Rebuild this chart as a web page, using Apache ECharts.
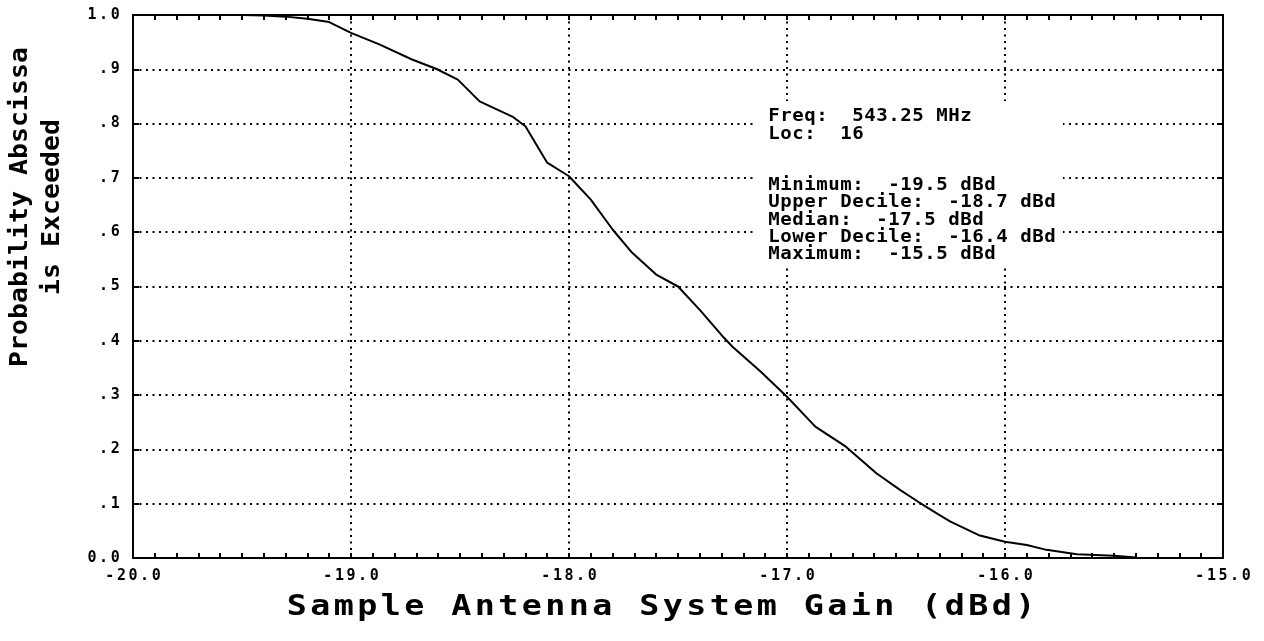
<!DOCTYPE html>
<html>
<head>
<meta charset="utf-8">
<script src="https://cdn.jsdelivr.net/npm/echarts@6/dist/echarts.min.js"></script>
<style>
  html, body { margin: 0; padding: 0; background: #fff; }
  #chart { width: 1264px; height: 641px; }
</style>
</head>
<body>
<div id="chart"></div>
<script>
// Cumulative distribution of measured gain: probability that the abscissa is exceeded
const gainDb = [
  -19.50, -19.40, -19.30, -19.20, -19.10, -19.00, -18.87, -18.72, -18.61, -18.51,
  -18.41, -18.26, -18.20, -18.10, -18.00, -17.90, -17.80, -17.71, -17.60, -17.50,
  -17.40, -17.29, -17.25, -17.12, -17.00, -16.87, -16.73, -16.59, -16.48, -16.40,
  -16.30, -16.25, -16.12, -16.00, -15.90, -15.81, -15.67, -15.50, -15.40
];
const probExceeded = [
  1.000, 0.999, 0.997, 0.993, 0.987, 0.967, 0.946, 0.918, 0.901, 0.881,
  0.841, 0.813, 0.795, 0.728, 0.703, 0.660, 0.605, 0.562, 0.522, 0.500,
  0.457, 0.406, 0.389, 0.343, 0.297, 0.242, 0.205, 0.156, 0.125, 0.104,
  0.079, 0.067, 0.042, 0.030, 0.024, 0.015, 0.007, 0.004, 0.001
];

// Axis ranges and tick labels
const xMin = -20, xMax = -15, xStep = 1;
const yMin = 0, yMax = 1, yStep = 0.1;
const yTickLabels = ['0.0', '.1', '.2', '.3', '.4', '.5', '.6', '.7', '.8', '.9', '1.0'];

// Titles and the statistics block (row index gives the line slot)
const xTitle = 'Sample Antenna System Gain (dBd)';
const yTitleLines = ['Probability Abscissa', 'is Exceeded'];
const infoLines = [
  ['Freq:  543.25 MHz', 0],
  ['Loc:  16', 1],
  ['Minimum:  -19.5 dBd', 4],
  ['Upper Decile:  -18.7 dBd', 5],
  ['Median:  -17.5 dBd', 6],
  ['Lower Decile:  -16.4 dBd', 7],
  ['Maximum:  -15.5 dBd', 8]
];

const MONO = '"DejaVu Sans Mono", "Liberation Mono", monospace';

// Plotter-style text: one widened glyph per fixed advance
function spacedText(str, x, y, advance, fontSize, rotation, stretch) {
  const children = [];
  for (let i = 0; i < str.length; i++) {
    const c = str[i];
    if (c === ' ') continue;
    children.push({
      type: 'text',
      x: i * advance + advance / 2,
      y: 0,
      scaleX: stretch || 1,
      z: 100,
      style: {
        text: c,
        font: 'bold ' + fontSize + 'px ' + MONO,
        fill: '#000',
        align: 'center',
        verticalAlign: 'middle'
      }
    });
  }
  return { type: 'group', x: x, y: y, rotation: rotation || 0, z: 100, children: children };
}

// Tick labels with the same fixed, wide character cells
function cellLabel(str) {
  return str.split('').map(c => '{c|' + c + '}').join('');
}
const cellRich = {
  c: { width: 11.6, align: 'center', fontFamily: MONO, fontWeight: 'bold', fontSize: 15, color: '#000' }
};

const chart = echarts.init(document.getElementById('chart'), null, { renderer: 'canvas' });

const tickStyle = { color: '#000', width: 2 };
const borderStyle = { color: '#000', width: 2 };
const dotted = { color: '#000', width: 2, type: [2, 4.5] };

const graphics = [];
// White panel behind the statistics text
graphics.push({
  type: 'rect',
  shape: { x: 757, y: 101, width: 306, height: 166 },
  style: { fill: '#fff' },
  z: 90
});
const infoAdvance = 12, infoTop = 117, infoRow = 17.2;
infoLines.forEach(([txt, row]) => {
  graphics.push(spacedText(txt, 768, infoTop + row * infoRow, infoAdvance, 17, 0, 1.12));
});
// X axis title
graphics.push(spacedText(xTitle, 285, 607, 23.5, 29, 0, 1.15));
// Y axis title, two rotated lines reading upwards
const yAdv = 16;
[[yTitleLines[0], 21], [yTitleLines[1], 53]].forEach(([txt, cx]) => {
  const len = txt.length * yAdv;
  graphics.push(spacedText(txt, cx, 207 + len / 2, yAdv, 24, Math.PI / 2, 1.1));
});

chart.setOption({
  animation: false,
  backgroundColor: '#fff',
  grid: { left: 133, right: 41, top: 15, bottom: 83, containLabel: false },
  xAxis: [
    {
      type: 'value', min: xMin, max: xMax, interval: xStep, position: 'bottom',
      axisLine: { show: true, onZero: false, lineStyle: borderStyle },
      axisTick: { show: true, inside: true, length: 5, lineStyle: tickStyle },
      minorTick: { show: true, splitNumber: 10, length: 5, lineStyle: tickStyle },
      splitLine: { show: true, lineStyle: dotted },
      axisLabel: {
        margin: 11,
        formatter: v => cellLabel(v.toFixed(1)),
        rich: cellRich
      }
    },
    {
      type: 'value', min: xMin, max: xMax, interval: xStep, position: 'top',
      axisLine: { show: true, onZero: false, lineStyle: borderStyle },
      axisTick: { show: true, inside: true, length: 5, lineStyle: tickStyle },
      minorTick: { show: true, splitNumber: 10, length: 5, lineStyle: tickStyle },
      splitLine: { show: false },
      axisLabel: { show: false }
    }
  ],
  yAxis: [
    {
      type: 'value', min: yMin, max: yMax, interval: yStep, position: 'left',
      axisLine: { show: true, onZero: false, lineStyle: borderStyle },
      axisTick: { show: true, inside: true, length: 6, lineStyle: tickStyle },
      splitLine: { show: true, lineStyle: dotted },
      axisLabel: {
        margin: 12,
        formatter: v => cellLabel(yTickLabels[Math.round(v / yStep)]),
        rich: cellRich
      }
    },
    {
      type: 'value', min: yMin, max: yMax, interval: yStep, position: 'right',
      axisLine: { show: true, onZero: false, lineStyle: borderStyle },
      axisTick: { show: true, inside: true, length: 6, lineStyle: tickStyle },
      splitLine: { show: false },
      axisLabel: { show: false }
    }
  ],
  series: [
    {
      type: 'line',
      xAxisIndex: 0, yAxisIndex: 0,
      data: gainDb.map((g, i) => [g, probExceeded[i]]),
      showSymbol: false, symbol: 'none', smooth: false,
      lineStyle: { color: '#000', width: 2 },
      z: 10
    }
  ],
  graphic: graphics
});
</script>
</body>
</html>
